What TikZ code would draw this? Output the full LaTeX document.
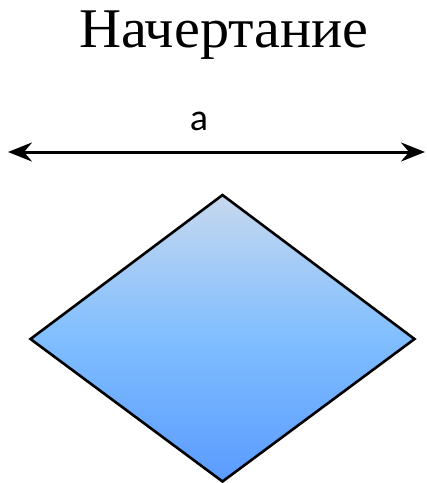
\documentclass[tikz,border=0pt]{standalone}
\usepackage{fontspec}
\setmainfont{Liberation Serif}
\newfontfamily\calfont{Carlito}
\usetikzlibrary{arrows.meta}
\definecolor{dtop}{HTML}{C6D8EE}
\definecolor{dmid}{HTML}{80BEFF}
\definecolor{dbot}{HTML}{5A9BFF}
\tikzset{
  dimline/.style={line width=3pt, {Stealth[length=24pt,width=19pt,inset=8pt]}-{Stealth[length=24pt,width=19pt,inset=8pt]}},
  shapeline/.style={line width=2.6pt, line join=miter}
}
\begin{document}
\begin{tikzpicture}[x=1pt,y=-1pt]
\useasboundingbox (0,0) rectangle (427,483);
\node[font=\fontsize{56}{60}\selectfont, anchor=base, xscale=1.04] (title) at (224,47) {Начертание};
\node[font=\calfont\fontsize{38}{42}\selectfont, anchor=base] (lbl) at (199,130) {a};
\coordinate (l) at (8,152);
\coordinate (r) at (425,152);
\draw[dimline] (l) -- (r);
\coordinate (t) at (222.5,195);
\coordinate (w) at (30.5,339);
\coordinate (e) at (414.5,339);
\coordinate (b) at (222.5,481.5);
\shade[top color=dtop, bottom color=dbot, middle color=dmid] (t) -- (e) -- (b) -- (w) -- cycle;
\draw[shapeline] (t) -- (e) -- (b) -- (w) -- cycle;
\end{tikzpicture}
\end{document}
